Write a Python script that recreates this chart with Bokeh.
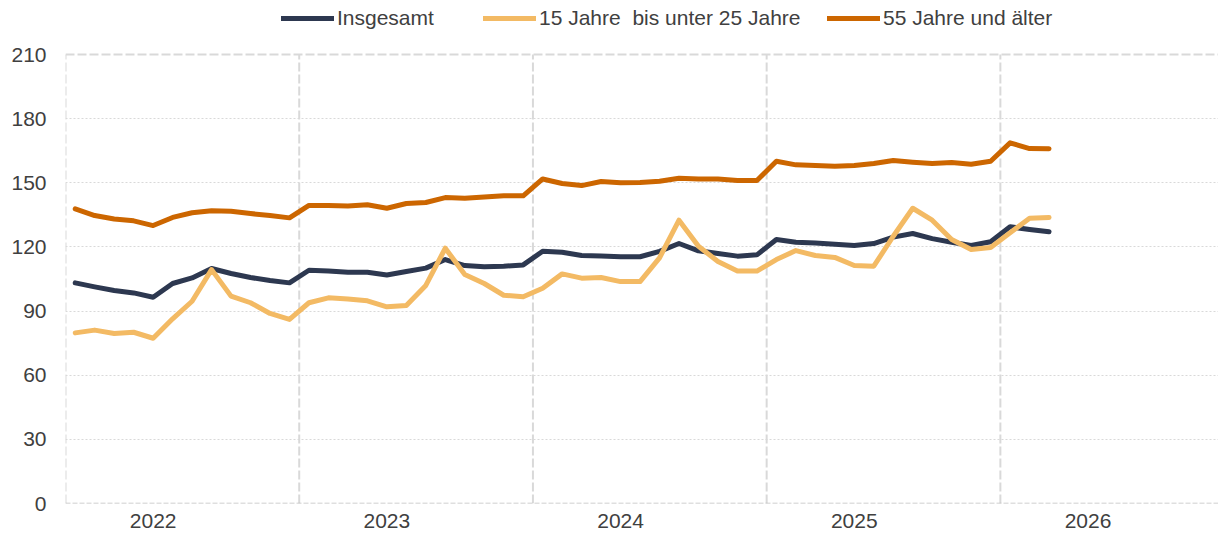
from bokeh.plotting import figure
from bokeh.models import FixedTicker, Span, Legend, LegendItem, Range1d
from bokeh.embed import file_html
from bokeh.resources import INLINE

# ---- data ----
months = [f"{y}-{m:02d}" for y in range(2022, 2026) for m in range(1, 13)] + ["2026-01", "2026-02", "2026-03"]
year_labels = ["2022", "2023", "2024", "2025", "2026"]
y_ticks = [0, 30, 60, 90, 120, 150, 180, 210]

insgesamt = [103.2, 101.3, 99.6, 98.5, 96.5, 102.9, 105.5, 109.9, 107.6, 105.7, 104.3, 103.2,
             109.1, 108.8, 108.2, 108.2, 106.9, 108.5, 110.1, 114.1, 111.3, 110.7, 111.0, 111.6,
             118.0, 117.5, 116.0, 115.8, 115.4, 115.4, 117.9, 121.6, 118.2, 116.9, 115.7, 116.3,
             123.5, 122.2, 121.8, 121.3, 120.7, 121.6, 124.6, 126.3, 123.9, 122.2, 120.7, 122.4,
             129.4, 128.2, 127.1]

jung_15_25 = [79.8, 81.1, 79.5, 80.1, 77.3, 86.4, 94.6, 109.4, 97.0, 93.9, 88.9, 86.1,
              93.9, 96.2, 95.7, 94.8, 92.0, 92.6, 102.0, 119.4, 107.1, 102.9, 97.4, 96.7,
              100.7, 107.4, 105.4, 105.7, 103.8, 103.8, 114.9, 132.5, 120.3, 113.2, 108.7, 108.7,
              114.1, 118.3, 116.0, 115.1, 111.3, 111.0, 125.0, 138.1, 132.5, 123.5, 118.8, 119.7,
              126.6, 133.4, 133.8]

alt_55 = [137.8, 134.7, 133.1, 132.2, 130.0, 133.8, 136.0, 136.9, 136.7, 135.6, 134.7, 133.6,
          139.4, 139.4, 139.1, 139.7, 138.1, 140.3, 140.8, 143.1, 142.8, 143.4, 143.9, 143.9,
          151.8, 149.7, 148.7, 150.6, 150.0, 150.1, 150.7, 152.1, 151.8, 151.8, 151.1, 151.1,
          160.1, 158.4, 158.1, 157.8, 158.1, 159.0, 160.4, 159.6, 159.0, 159.5, 158.7, 160.1,
          168.7, 166.0, 165.9]

series_names = ["Insgesamt", "15 Jahre  bis unter 25 Jahre", "55 Jahre und älter"]
colors = ["#2d3850", "#f3ba64", "#cc6600"]

# x in half-month units: month i centred at 2*i+1
x = [2 * i + 1 for i in range(len(months))]
year_tick_pos = [9 + 24 * k for k in range(len(year_labels))]
year_bounds = [24 * k for k in range(len(year_labels))]

FONT = "Liberation Sans"
TXT = "#404040"
FS = "21px"

p = figure(width=1218, height=531, output_backend="svg", toolbar_location=None,
           x_range=Range1d(0, 118.4), y_range=Range1d(0, 233.4),
           min_border_left=65, min_border_right=0, min_border_top=4, min_border_bottom=28)
p.outline_line_color = None
p.background_fill_color = "white"
p.border_fill_color = "white"

# axes
p.xaxis.ticker = FixedTicker(ticks=year_tick_pos)
p.xaxis.major_label_overrides = {t: lab for t, lab in zip(year_tick_pos, year_labels)}
p.xaxis.axis_line_color = None
p.xaxis.major_tick_line_color = None
p.xaxis.minor_tick_line_color = None
p.xaxis.major_label_standoff = 4
p.xaxis.major_label_text_font = FONT
p.xaxis.major_label_text_font_size = FS
p.xaxis.major_label_text_color = TXT

p.yaxis.ticker = FixedTicker(ticks=y_ticks)
p.yaxis.axis_line_color = None
p.yaxis.major_tick_line_color = None
p.yaxis.minor_tick_line_color = None
p.yaxis.major_label_standoff = 13
p.yaxis.major_label_text_font = FONT
p.yaxis.major_label_text_font_size = FS
p.yaxis.major_label_text_color = TXT

# grids
p.xgrid.grid_line_color = None
p.ygrid.ticker = FixedTicker(ticks=y_ticks[1:-1])
p.ygrid.grid_line_color = "#d9d9d9"
p.ygrid.grid_line_width = 1
p.ygrid.grid_line_dash = "2 2"

# year separators (dashed) from 0 to 210
p.segment(x0=year_bounds, y0=[y_ticks[0]] * len(year_bounds), x1=year_bounds,
          y1=[y_ticks[-1]] * len(year_bounds),
          line_color="#d9d9d9", line_width=2, line_dash="9 3")

p.add_layout(Span(location=y_ticks[-1], dimension="width", line_color="#d9d9d9", line_width=2, line_dash="9 3"))
p.add_layout(Span(location=y_ticks[0], dimension="width", line_color="#bfbfbf", line_width=1.5, line_dash="5 2"))

# lines
renderers = []
for vals, col in zip([insgesamt, jung_15_25, alt_55], colors):
    r = p.line(x, vals, line_color=col, line_width=5, line_join="round", line_cap="round")
    renderers.append(r)

legend_x = [216, 418, 762]
for name, r, lx in zip(series_names, renderers, legend_x):
    leg = Legend(items=[LegendItem(label=name, renderers=[r])], location=(lx, 473),
                 orientation="horizontal", padding=0, margin=0, spacing=0,
                 glyph_width=53, glyph_height=20, label_height=20, label_standoff=3,
                 border_line_color=None, background_fill_alpha=0,
                 label_text_font=FONT, label_text_font_size=FS, label_text_color=TXT)
    p.add_layout(leg)

open("out.html", "w").write(file_html(p, INLINE))
